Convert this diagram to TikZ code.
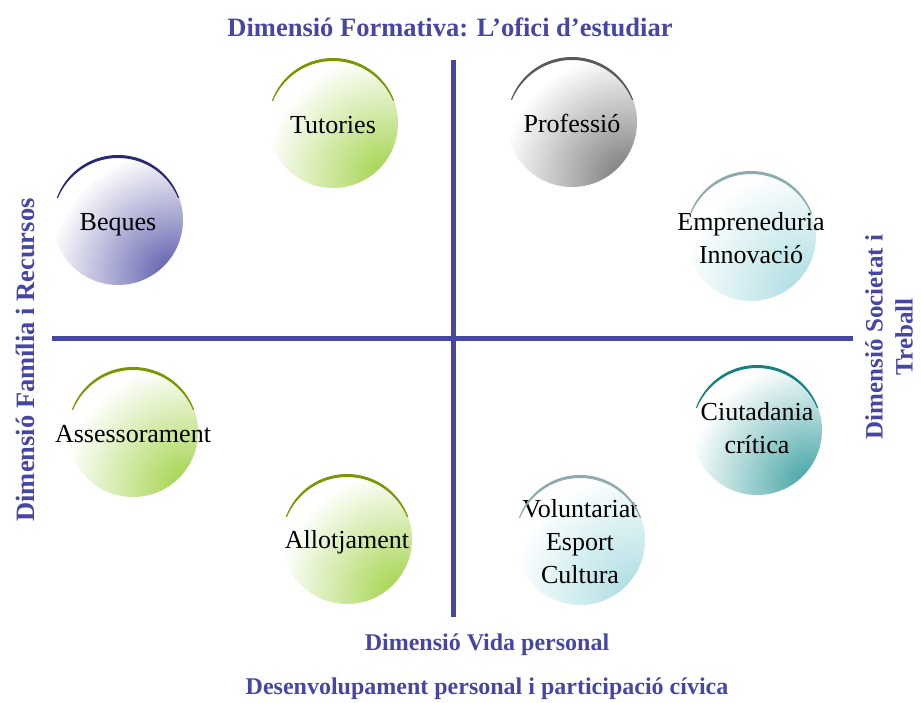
\documentclass[tikz,border=0pt]{standalone}
\usepackage{fontspec}
\setmainfont{Liberation Serif}
\usetikzlibrary{positioning}

\definecolor{axisblue}{RGB}{70,70,165}
\definecolor{blueedge}{RGB}{40,40,120}
\definecolor{bluefill}{RGB}{90,90,170}
\definecolor{greenedge}{RGB}{120,150,0}
\definecolor{greenfill}{RGB}{160,210,70}
\definecolor{grayedge}{RGB}{90,90,90}
\definecolor{grayfill}{RGB}{120,120,120}
\definecolor{paleedge}{RGB}{140,170,175}
\definecolor{palefill}{RGB}{170,220,225}
\definecolor{tealedge}{RGB}{20,128,128}
\definecolor{tealfill}{RGB}{60,160,160}

% text of a circle: no width, so the circle keeps its size
\newcommand{\topictext}[2][-10.5pt]{\raisebox{#1}[0pt][0pt]{\makebox[0pt]{\begin{tabular}{@{}c@{}}#2\end{tabular}}}}

\begin{document}
\begin{tikzpicture}[
          x = 1pt, y = 1pt,
          axis/.style = {line width=5pt, draw=axisblue}, % the two axes
          dimlabel/.style = {text=axisblue, font=\bfseries\fontsize{26.5}{32}\selectfont, align=center},
          topic/.style = {
            circle,
            minimum size = 130pt,
            inner sep = 0pt,
            font = \fontsize{26}{33}\selectfont,
            path picture = {\shade[inner color=#1, outer color=white]
              ([shift={(55pt,-55pt)}]path picture bounding box.center) circle (125pt);}
          }
          ]

          \useasboundingbox (0,0) rectangle (921,702);

          % axes
          \coordinate (vtop) at (453,642);
          \coordinate (vbot) at (453,85);
          \coordinate (hleft) at (52,363);
          \coordinate (hright) at (853,363);
          \draw[axis] (vtop) -- (vbot);
          \draw[axis] (hleft) -- (hright);

          % circles
          \node[topic=bluefill] (beques) at (118,482) {\topictext{Beques}};
          \node[topic=greenfill] (tutories) at (333,579) {\topictext{Tutories}};
          \node[topic=grayfill] (professio) at (572,580) {\topictext{Professió}};
          \node[topic=palefill] (empren) at (751,466) {\topictext{Empreneduria\\Innovació}};
          \node[topic=greenfill] (assess) at (133,270) {\topictext{Assessorament}};
          \node[topic=greenfill] (allotj) at (347,163) {\topictext[-9.5pt]{Allotjament}};
          \node[topic=tealfill] (ciutad) at (757,272) {\topictext[-6.5pt]{Ciutadania\\crítica}};
          \node[topic=palefill] (volunt) at (580,162) {\topictext{Voluntariat\\Esport\\Cultura}};

          % dark rim on top of each circle
          \foreach \n/\c in {beques/blueedge, tutories/greenedge, professio/grayedge,
                             empren/paleedge, assess/greenedge, allotj/greenedge,
                             ciutad/tealedge, volunt/paleedge} {
            \begin{scope}
              \clip ([shift={(-70pt,22pt)}]\n.center) rectangle ([shift={(70pt,70pt)}]\n.center);
              \fill[\c, even odd rule] (\n.center) circle (65pt)
                ([yshift=-3pt]\n.center) circle (65pt);
            \end{scope}
          }

          % dimension labels
          \node[dimlabel] (formativa) at (450,675) {Dimensió Formativa: L’ofici d’estudiar};
          \node[dimlabel, font=\bfseries\fontsize{24}{30}\selectfont] (vida) at (487,57) {Dimensió Vida personal};
          \node[dimlabel, font=\bfseries\fontsize{24}{30}\selectfont] (desenv) at (487,13) {Desenvolupament personal i participació cívica};
          \node[dimlabel, rotate=90] (familia) at (25,342) {Dimensió Família i Recursos};
          \node[dimlabel, rotate=90, font=\bfseries\fontsize{25}{30}\selectfont] (societat) at (889,365) {Dimensió Societat i\\Treball};

        \end{tikzpicture}
\end{document}
